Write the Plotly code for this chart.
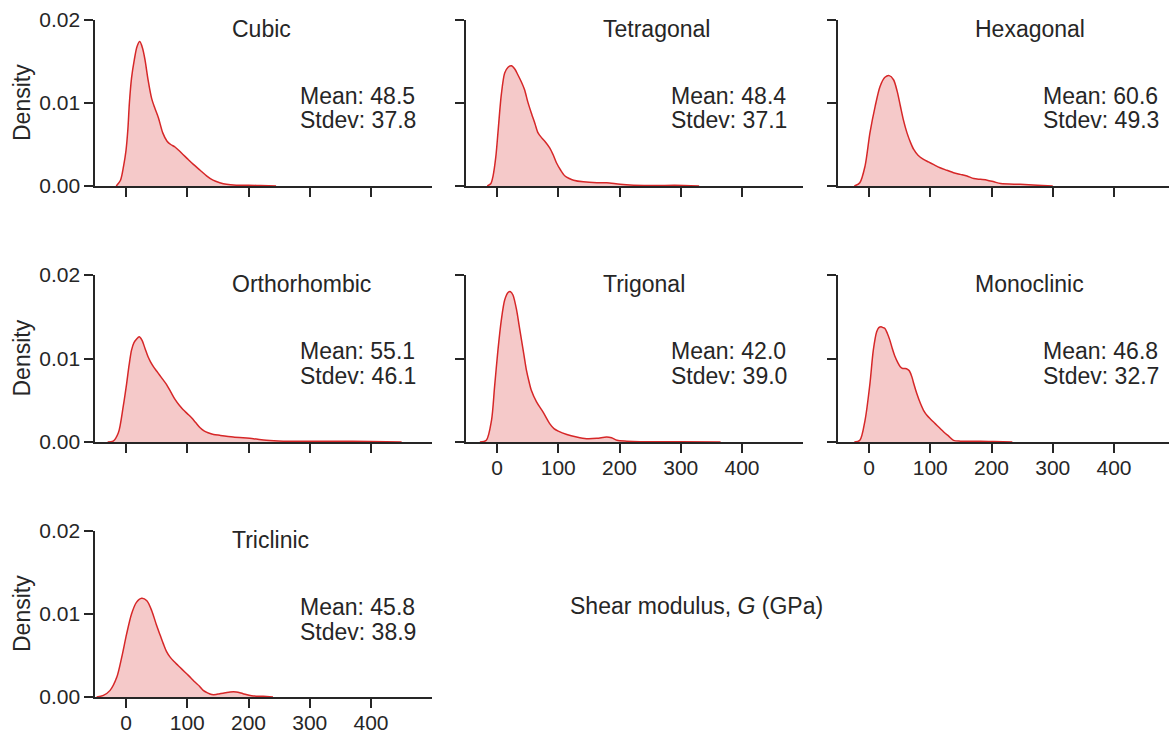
import plotly.graph_objects as go

W, H = 1169, 733

# ---- data ----
panels = ["Cubic", "Tetragonal", "Hexagonal", "Orthorhombic", "Trigonal", "Monoclinic", "Triclinic"]
means = [48.5, 48.4, 60.6, 55.1, 42.0, 46.8, 45.8]
stdevs = [37.8, 37.1, 49.3, 46.1, 39.0, 32.7, 38.9]
x_ticks = [0, 100, 200, 300, 400]
y_ticks = [0.0, 0.01, 0.02]
y_tick_labels = ["0.00", "0.01", "0.02"]

cubic_x = [-16, -9, -4, 0, 3, 5.5, 9, 13.5, 18, 22.5, 27, 31, 36, 42, 47, 53, 60, 67, 73, 80, 86, 93, 100, 110, 121, 132, 142, 153, 164, 180, 200, 220, 245]
cubic_y = [0, 0.0007, 0.0024, 0.0043, 0.0068, 0.0100, 0.0130, 0.0152, 0.0168, 0.0174, 0.0166, 0.0152, 0.0128, 0.0105, 0.0094, 0.0082, 0.0064, 0.0054, 0.0050, 0.0047, 0.0043, 0.0038, 0.0033, 0.0026, 0.0019, 0.0012, 0.0007, 0.0004, 0.0002, 0.0001, 0.0001, 0.00005, 0]

tetragonal_x = [-16, -10, -6.5, -2, 1.5, 7, 12.5, 18, 23.5, 29, 34, 40, 45, 50, 56, 62, 67, 73, 78, 86, 92, 97, 104, 111, 118, 125, 141, 163, 179, 201, 223, 260, 290, 330]
tetragonal_y = [0, 0.0003, 0.0012, 0.0035, 0.0064, 0.0110, 0.0136, 0.0143, 0.0145, 0.0141, 0.0134, 0.0125, 0.0116, 0.0102, 0.0088, 0.0075, 0.0064, 0.0058, 0.0054, 0.0046, 0.0037, 0.0028, 0.0019, 0.0012, 0.0009, 0.0007, 0.0005, 0.0004, 0.0004, 0.0002, 0.0001, 0.00005, 0.0001, 0]

hexagonal_x = [-24, -15, -6.5, 1.5, 10, 18, 26, 33, 40, 46, 51, 56, 62, 68, 73, 80, 89, 97, 105, 116, 127, 138, 149, 160, 171, 182, 193, 204, 215, 247, 275, 300]
hexagonal_y = [0, 0.0004, 0.0024, 0.0064, 0.0096, 0.0120, 0.0131, 0.0133, 0.0128, 0.0114, 0.0097, 0.0080, 0.0064, 0.0052, 0.0044, 0.0037, 0.0032, 0.0029, 0.0026, 0.0022, 0.0019, 0.0016, 0.0014, 0.0012, 0.0009, 0.0008, 0.0007, 0.0005, 0.0003, 0.0002, 0.0001, 0]

orthorhombic_x = [-30, -21, -12.5, -4.5, 1, 5, 9, 13, 17, 21.5, 26, 31, 36, 40, 45, 50, 55, 60, 66, 73, 80, 87, 93, 100, 107, 114, 121, 128, 134, 143, 153, 175, 208, 229, 257, 300, 338, 400, 450]
orthorhombic_y = [0, 0.0001, 0.0011, 0.0043, 0.0070, 0.0092, 0.0110, 0.0119, 0.0123, 0.0126, 0.0122, 0.0112, 0.0102, 0.0096, 0.0090, 0.0085, 0.0080, 0.0075, 0.0069, 0.0060, 0.0051, 0.0044, 0.0039, 0.0034, 0.0029, 0.0023, 0.0017, 0.0013, 0.0011, 0.0009, 0.0008, 0.0006, 0.0004, 0.0002, 0.0001, 0.0001, 0.0001, 0.00005, 0]

trigonal_x = [-28, -17.5, -9, -4, 1.5, 7, 12.5, 18, 22, 26, 32, 36, 40, 44, 48, 52, 56, 64.5, 75, 86, 93, 100, 114, 130, 146, 163, 179, 187, 196, 212, 234, 300, 365]
trigonal_y = [0, 0.0002, 0.0026, 0.0066, 0.0110, 0.0146, 0.0170, 0.0179, 0.0180, 0.0176, 0.0158, 0.0140, 0.0122, 0.0104, 0.0086, 0.0073, 0.0062, 0.0048, 0.0036, 0.0022, 0.0016, 0.0013, 0.0009, 0.0006, 0.0004, 0.00044, 0.0006, 0.0005, 0.0002, 0.0001, 0.00004, 0.00002, 0]

monoclinic_x = [-24, -15, -6.5, 1.5, 7, 12.5, 16, 19.7, 23, 26, 30, 34, 38, 42.6, 47, 51, 55, 59, 63, 66, 70, 73, 78, 84, 89, 94.5, 101, 108, 115, 122, 130, 138, 149, 182, 204, 234]
monoclinic_y = [0, 0.0002, 0.0026, 0.0070, 0.0110, 0.0132, 0.0137, 0.0138, 0.0137, 0.0136, 0.0130, 0.0122, 0.0112, 0.0102, 0.0095, 0.0090, 0.0088, 0.0088, 0.0087, 0.0085, 0.0078, 0.0070, 0.0058, 0.0046, 0.0038, 0.0032, 0.0027, 0.0022, 0.0017, 0.0012, 0.0007, 0.0002, 0.0001, 0.0001, 0.00005, 0]

triclinic_x = [-48, -37, -26, -15, -7, 1, 9, 17, 25.5, 34, 42, 50, 56, 61, 66, 72, 78, 85, 92, 99, 106, 112.5, 120, 126, 133, 140, 147, 153, 162, 170, 180, 191, 205, 224, 240]
triclinic_y = [0, 0.0002, 0.0008, 0.0024, 0.0048, 0.0076, 0.0100, 0.0114, 0.0119, 0.0116, 0.0104, 0.0086, 0.0074, 0.0064, 0.0055, 0.0048, 0.0043, 0.0038, 0.0033, 0.0028, 0.0023, 0.0018, 0.0013, 0.0008, 0.0005, 0.0003, 0.0003, 0.0004, 0.0005, 0.0006, 0.0006, 0.0004, 0.00016, 0.00008, 0]

curves_x = [cubic_x, tetragonal_x, hexagonal_x, orthorhombic_x, trigonal_x, monoclinic_x, triclinic_x]
curves_y = [cubic_y, tetragonal_y, hexagonal_y, orthorhombic_y, trigonal_y, monoclinic_y, triclinic_y]

# ---- layout geometry ----
col_dom = [(95.4 / W, 432.25 / W), (466.4 / W, 803.25 / W), (838.4 / W, 1.0)]
col_rng = [(-50, 500), (-50, 500), (-50, 489.8)]
row_px = [(20, 186), (275, 442), (531, 697)]  # top, bottom pixel of each row

INK = "#262626"
FONT = "Liberation Sans, Arial, Helvetica, sans-serif"
LINE = "#d62728"
FILL = "rgba(214,39,40,0.25)"

def py(p):
    return 1 - p / H

fig = go.Figure()
layout = dict(template="none", width=W, height=H, margin=dict(l=0, r=0, t=0, b=0, pad=0),
              paper_bgcolor="white", plot_bgcolor="white", showlegend=False,
              font=dict(family=FONT, color=INK, size=21))
annotations = []

for i, name in enumerate(panels):
    r, c = divmod(i, 3)
    k = i + 1
    xa = f"xaxis{k}" if k > 1 else "xaxis"
    ya = f"yaxis{k}" if k > 1 else "yaxis"
    xr = f"x{k}" if k > 1 else "x"
    yr = f"y{k}" if k > 1 else "y"
    fig.add_trace(go.Scatter(x=curves_x[i], y=curves_y[i], mode="lines",
                             line=dict(color=LINE, width=1.5, shape="spline", smoothing=0.8),
                             fill="tozeroy", fillcolor=FILL, xaxis=xr, yaxis=yr,
                             hoverinfo="skip"))
    top, bot = row_px[r]
    bottom_of_col = (r == 2) or (r == 1 and c > 0)
    common = dict(showline=True, linecolor=INK, linewidth=2, ticks="outside",
                  ticklen=9, tickwidth=2, tickcolor=INK, showgrid=False,
                  zeroline=False, automargin=False,
                  tickfont=dict(size=21, color=INK, family=FONT))
    layout[xa] = dict(domain=list(col_dom[c]), range=list(col_rng[c]),
                      anchor=yr, tickvals=x_ticks, showticklabels=bottom_of_col,
                      ticklabelstandoff=-3, **common)
    layout[ya] = dict(domain=[py(bot), py(top)], range=[0, 0.02], anchor=xr,
                      tickvals=y_ticks, ticktext=y_tick_labels,
                      showticklabels=(c == 0), **common)
    # panel title
    annotations.append(dict(text=name, xref=xr, x=170, xanchor="left",
                            yref="paper", y=py(top + 9), yanchor="middle",
                            showarrow=False, font=dict(size=23, color=INK, family=FONT)))
    annotations.append(dict(text=f"Mean: {means[i]:.1f}", xref=xr, x=280, xanchor="left",
                            yref="paper", y=py(top + 75.5), yanchor="middle",
                            showarrow=False, font=dict(size=23, color=INK, family=FONT)))
    annotations.append(dict(text=f"Stdev: {stdevs[i]:.1f}", xref=xr, x=280, xanchor="left",
                            yref="paper", y=py(top + 100.5), yanchor="middle",
                            showarrow=False, font=dict(size=23, color=INK, family=FONT)))
    if c == 0:
        annotations.append(dict(text="Density", xref="paper", x=22 / W, xanchor="center",
                                yref="paper", y=py((top + bot) / 2), yanchor="middle",
                                textangle=-90, showarrow=False,
                                font=dict(size=23, color=INK, family=FONT)))

annotations.append(dict(text="Shear modulus, <i>G</i> (GPa)", xref="paper", x=568 / W,
                        xanchor="left", yref="paper", y=py(606), yanchor="middle",
                        showarrow=False, font=dict(size=23, color=INK, family=FONT)))
layout["annotations"] = annotations
fig.update_layout(**layout)
fig.write_html("out.html")
